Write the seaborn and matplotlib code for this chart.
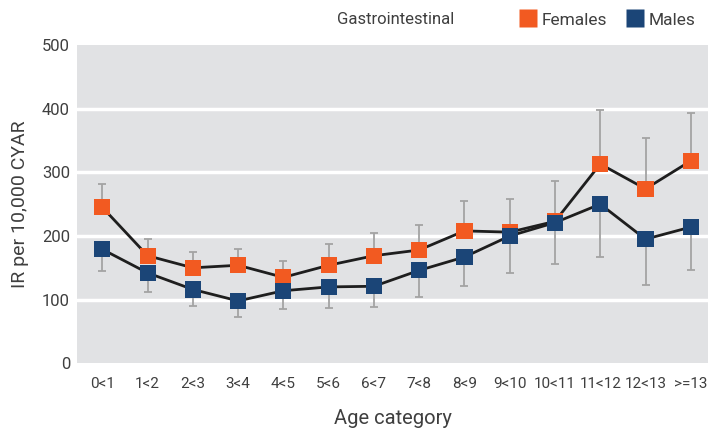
import matplotlib
matplotlib.use("Agg")
import matplotlib.pyplot as plt
from matplotlib.lines import Line2D
import numpy as np
import pandas as pd
import seaborn as sns

categories = ["0<1", "1<2", "2<3", "3<4", "4<5", "5<6", "6<7", "7<8",
              "8<9", "9<10", "10<11", "11<12", "12<13", ">=13"]
females = [245, 169, 150, 154, 135, 154, 169, 178, 208, 206, 223, 313, 274, 318]
females_upper = [281, 195, 175, 180, 160, 187, 205, 217, 255, 258, 287, 398, 354, 393]
males = [179, 142, 116, 98, 114, 120, 121, 146, 167, 200, 221, 250, 195, 214]
males_lower = [145, 112, 90, 73, 85, 87, 89, 104, 121, 142, 156, 167, 123, 146]
y_ticks = [0, 100, 200, 300, 400, 500]

ORANGE = "#F25A21"
NAVY = "#1B4577"
ERR = "#A3A3A3"
TEXT = "#3F3F3F"

sns.set_theme(style="white")
plt.rcParams["font.family"] = ["Roboto", "DejaVu Sans"]

idx = np.arange(len(categories))
df = pd.concat([
    pd.DataFrame({"pos": idx, "IR": females, "sex": "Females"}),
    pd.DataFrame({"pos": idx, "IR": males, "sex": "Males"}),
])

fig = plt.figure(figsize=(7.08, 4.30), dpi=100)
ax = fig.add_axes([77 / 708, (430 - 363.3) / 430, 1 - 77 / 708, (363.3 - 45) / 430])
ax.set_facecolor("#E1E2E4")

# connecting lines
sns.lineplot(data=df, x="pos", y="IR", units="sex", estimator=None,
             color="#1E1E1E", linewidth=2.0, ax=ax, zorder=2, legend=False)

# one-sided error bars: upper for females, lower for males
f = np.array(females)
m = np.array(males)
ax.errorbar(idx, f, yerr=[np.zeros_like(f), np.array(females_upper) - f],
            fmt="none", ecolor=ERR, elinewidth=1.3, capsize=3, capthick=1.3, zorder=1.5)
ax.errorbar(idx, m, yerr=[m - np.array(males_lower), np.zeros_like(m)],
            fmt="none", ecolor=ERR, elinewidth=1.3, capsize=3, capthick=1.3, zorder=1.5)

# square markers
sns.scatterplot(x=idx, y=females, marker="s", s=135, color=ORANGE,
                edgecolor="none", ax=ax, zorder=3)
sns.scatterplot(x=idx, y=males, marker="s", s=135, color=NAVY,
                edgecolor="none", ax=ax, zorder=4)

ax.set_xlim(-0.56, 13.38)
ax.set_ylim(0, 500)
ax.set_yticks(y_ticks)
ax.set_xticks(idx)
ax.set_xticklabels(categories)
for yv in y_ticks[1:-1]:
    ax.axhline(yv, color="white", linewidth=2.5, zorder=1)
for s in ax.spines.values():
    s.set_visible(False)
ax.tick_params(axis="both", length=0, labelcolor=TEXT)
ax.tick_params(axis="x", pad=10, labelsize=11)
ax.tick_params(axis="y", pad=5, labelsize=12)
ax.set_xlabel("Age category", fontsize=14.5, color=TEXT, labelpad=13)
ax.set_ylabel("IR per 10,000 CYAR", fontsize=14, color=TEXT, labelpad=9)

# legend along the top
fig.text(337 / 708, 1 - 20 / 430, "Gastrointestinal", fontsize=12, color=TEXT,
         ha="left", va="center")
handles = [Line2D([], [], marker="s", linestyle="none", markersize=12.5,
                  markerfacecolor=c, markeredgecolor="none") for c in (ORANGE, NAVY)]
fig.legend(handles, ["Females", "Males"], loc="center right",
           bbox_to_anchor=(1.005, 1 - 20 / 430), ncol=2, frameon=False,
           fontsize=12.5, handletextpad=0.2, columnspacing=1.0,
           handlelength=1.2, labelcolor=TEXT)

fig.savefig("out.png", dpi=100)
